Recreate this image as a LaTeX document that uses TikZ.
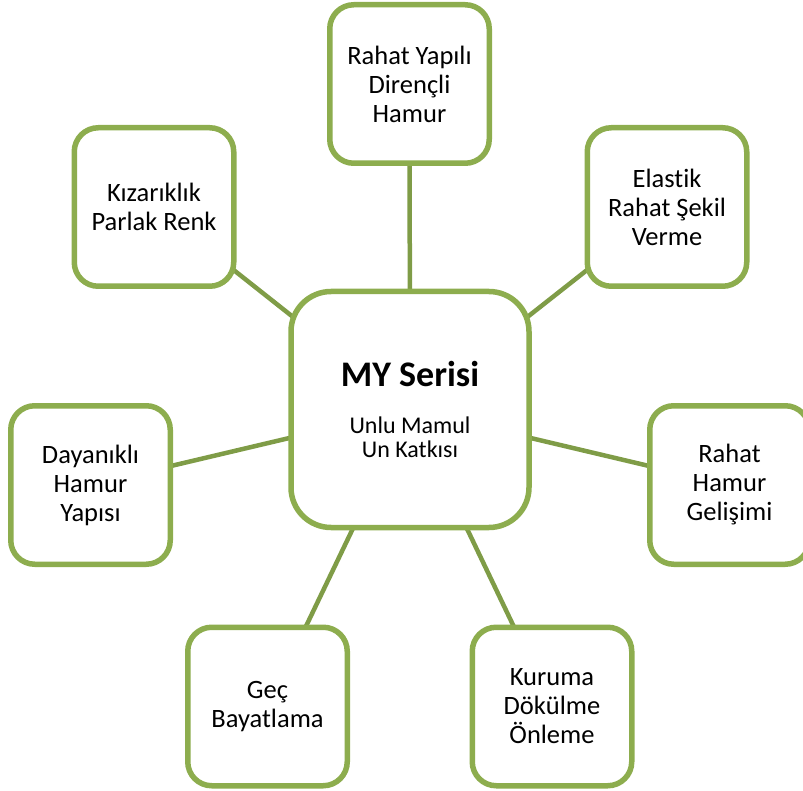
\documentclass[tikz,border=0pt]{standalone}
\usepackage{fontspec}
\setmainfont{Carlito}[Ligatures=NoCommon]
\usetikzlibrary{backgrounds}
\definecolor{boxgreen}{HTML}{8DAD4E}
\definecolor{linegreen}{HTML}{7F9C47}

\begin{document}
\begin{tikzpicture}[x=1pt,y=-1pt,
		leaf/.style={draw=boxgreen,line width=5.5pt,fill=white,rounded corners=24pt,
			minimum width=159.5pt,minimum height=158.5pt,align=center,inner sep=0pt,
			font=\fontsize{26.5}{29}\selectfont},
		hub/.style={draw=boxgreen,line width=5.5pt,fill=white,rounded corners=40pt,
			minimum width=238pt,minimum height=236pt,align=center,inner sep=0pt,
			font=\fontsize{24}{23.5}\selectfont},
		spoke/.style={draw=linegreen,line width=4.5pt}]
						\useasboundingbox (0,0) rectangle (803,791);
						\node[hub] (my) at (410,409.5) {{\fontsize{36}{43}\selectfont\bfseries MY Serisi}\\[23.5pt]Unlu Mamul\\Un Katkısı};
						\node[leaf] (yapi) at (409.5,84) {Rahat Yapılı\\Dirençli\\Hamur};
						\node[leaf] (renk) at (154,207) {Kızarıklık\\Parlak Renk};
						\node[leaf] (elastik) at (667,207) {Elastik\\Rahat Şekil\\Verme};
						\node[leaf] (dayanikli) at (90.5,485) {Dayanıklı\\Hamur\\Yapısı};
						\node[leaf] (gelisim) at (729.5,485) {Rahat\\Hamur\\Gelişimi};
						\node[leaf] (bayat) at (267.5,706.5) {Geç\\Bayatlama};
						\node[leaf] (kuruma) at (552,706.5) {Kuruma\\Dökülme\\Önleme};
						\begin{scope}[on background layer]
							\foreach \n in {yapi,renk,elastik,dayanikli,gelisim,bayat,kuruma}
								\draw[spoke] (my.center) -- (\n.center);
						\end{scope}
					\end{tikzpicture}
\end{document}
